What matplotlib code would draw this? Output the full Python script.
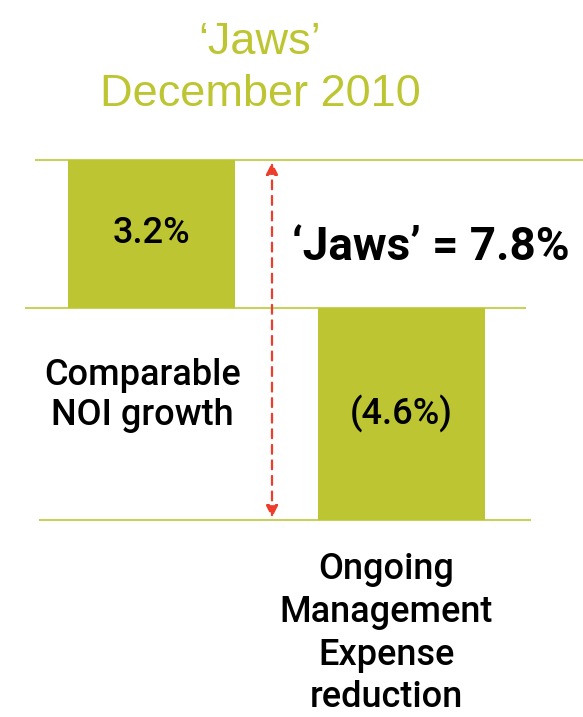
import matplotlib
matplotlib.use("Agg")
import matplotlib.pyplot as plt

# data
categories = ["Comparable\nNOI growth", "Ongoing\nManagement\nExpense\nreduction"]
values = [3.2, -4.6]
bar_labels = ["3.2%", "(4.6%)"]
title_lines = ["\u2018Jaws\u2019", "December 2010"]

GREEN = "#bdc632"
LINE = "#c8d15e"
RED = "#ee3d2a"

fig = plt.figure(figsize=(5.83, 7.17), dpi=100)
ax = fig.add_axes([0, 0, 1, 1])
ax.set_xlim(-0.606, 1.726)
ax.set_ylim(-8.85, 6.65)
ax.axis("off")

x = [0, 1]
ax.bar(x, values, width=0.668, color=GREEN, zorder=2)

# guide lines at bar top, baseline and bar bottom
ax.axhline(values[0], xmin=0.062, xmax=1.0, color=LINE, lw=1.5, zorder=1)
ax.axhline(0, xmin=0.045, xmax=0.90, color=LINE, lw=1.5, zorder=1)
ax.axhline(values[1], xmin=0.069, xmax=0.909, color=LINE, lw=1.5, zorder=1)

# bar value labels
lab_font = dict(family=["Roboto", "DejaVu Sans"], fontsize=26, color="black",
                fontweight="medium", ha="center", va="center")
ax.text(x[0], values[0] / 2, bar_labels[0], **lab_font)
ax.text(x[1], values[1] / 2, bar_labels[1], **lab_font)

# category labels
ax.text(x[0] - 0.035, -1.9, categories[0], linespacing=1.22, **lab_font)
ax.text(x[1] - 0.06, values[1] - 2.45, categories[1], linespacing=1.28, **lab_font)

# jaws arrow
jaws = values[0] - values[1]
ax.annotate("", xy=(0.482, values[1]), xytext=(0.482, values[0]),
            arrowprops=dict(arrowstyle="<|-|>", color=RED, lw=1.6, ls=(0, (4, 3)),
                            mutation_scale=18, shrinkA=2, shrinkB=2))
ax.text(1.118, 1.3, "\u2018Jaws\u2019 = %.1f%%" % jaws, fontsize=33,
        fontweight="bold", family=["Roboto", "DejaVu Sans"],
        ha="center", va="center")

# title
tfont = dict(fontsize=32.5, color=GREEN, ha="center", va="center",
             family=["Liberation Sans", "DejaVu Sans"])
fig.text(260 / 583, 1 - 42 / 717, title_lines[0], **tfont)
fig.text(260 / 583, 1 - 94 / 717, title_lines[1], **tfont)

fig.savefig("out.png", dpi=100)
